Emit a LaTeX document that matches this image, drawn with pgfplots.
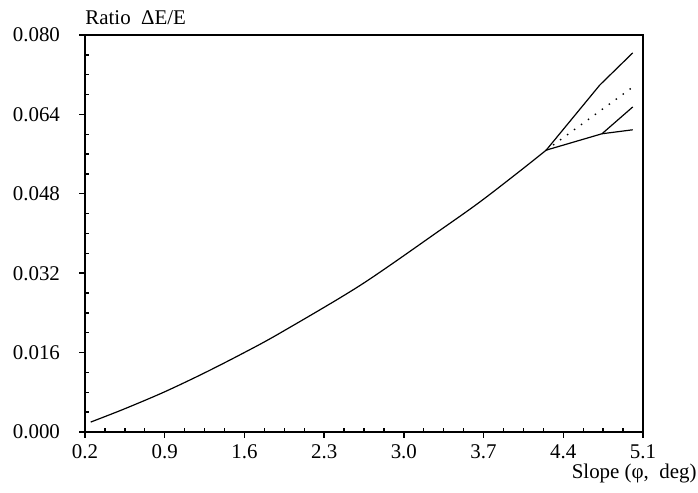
\documentclass[border=0pt]{standalone}
\usepackage{pgfplots}
\pgfplotsset{compat=1.18}
\usepackage{fontspec}
\setmainfont{Liberation Serif}
\begin{document}
\begin{tikzpicture}
\useasboundingbox (-42.5bp,-30.5bp) rectangle (306.5bp,216bp);
\begin{axis}[
  at={(0,0)}, anchor=south west,
  width=279bp, height=198.5bp, scale only axis,
  xmin=0.2, xmax=5.1, ymin=0, ymax=0.08,
  scaled y ticks=false, scaled x ticks=false,
  xtick={0.2,0.9,1.6,2.3,3.0,3.7,4.4,5.1},
  xticklabels={0.2,0.9,1.6,2.3,3.0,3.7,4.4,5.1},
  ytick={0,0.016,0.032,0.048,0.064,0.08},
  yticklabels={0.000,0.016,0.032,0.048,0.064,0.080},
  minor x tick num=3, minor y tick num=3,
  tick pos=left, tick align=inside,
  major tick length=-3bp, minor tick length=1.8bp,
  every tick/.style={black, line width=0.7bp},
  axis line style={line width=0.75bp},
  tick label style={font=\fontsize{10.5}{12}\selectfont},
  yticklabel style={xshift=-9bp},
  xticklabel style={yshift=-3bp},
  clip=false,
]
\addplot[black, line width=0.6bp, smooth] coordinates {
(0.25,0.0020) (0.54,0.0046) (0.89,0.0080) (1.24,0.0118) (1.59,0.0159)
(1.91,0.0199) (2.62,0.0296) (3.32,0.0407) (3.67,0.0464) (4.02,0.0526) (4.25,0.0568)};
\addplot[black, line width=0.6bp] coordinates {(4.25,0.0568) (4.72,0.0699) (5.01,0.0764)};
\addplot[black, line width=0.7bp, dash pattern=on 0.7bp off 3.6bp] coordinates {(4.25,0.0568) (5.01,0.0695)};
\addplot[black, line width=0.6bp] coordinates {(4.25,0.0568) (4.74,0.0601) (5.01,0.0609)};
\addplot[black, line width=0.6bp] coordinates {(4.74,0.0601) (5.01,0.0655)};
\node[anchor=base west, font=\fontsize{10.5}{12}\selectfont, inner sep=0pt] at (rel axis cs:0,1) [yshift=5bp] {Ratio\ \ ΔE/E};
\node[anchor=base east, font=\fontsize{10.5}{12}\selectfont, inner sep=0pt] at (rel axis cs:1,0) [xshift=27bp, yshift=-23bp] {Slope (φ,\ \ deg)};
\end{axis}
\end{tikzpicture}
\end{document}
